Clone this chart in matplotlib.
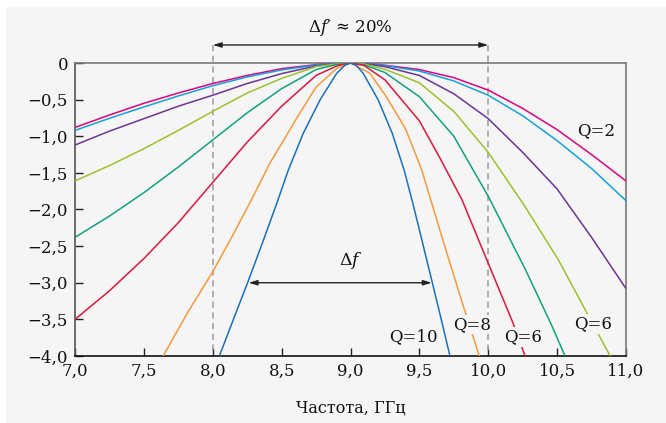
import matplotlib
matplotlib.use("Agg")
import matplotlib.pyplot as plt
from matplotlib.patches import Rectangle

plt.rcParams['font.family'] = ['DejaVu Serif']
plt.rcParams['mathtext.fontset'] = 'custom'
plt.rcParams['mathtext.it'] = 'DejaVu Serif:italic'
plt.rcParams['mathtext.rm'] = 'DejaVu Serif'

# ---- data ----
magenta_x = [7.0, 7.25, 7.5, 7.75, 8.0, 8.25, 8.5, 8.75, 8.9, 9.0, 9.1, 9.25, 9.5, 9.75, 10.0, 10.25, 10.5, 10.75, 11.0]
magenta_y = [-0.88, -0.71, -0.55, -0.41, -0.28, -0.17, -0.077, -0.022, -0.005, 0.0, -0.005, -0.03, -0.09, -0.20, -0.37, -0.62, -0.91, -1.25, -1.61]

cyan_x = [7.0, 7.25, 7.5, 7.75, 8.0, 8.25, 8.5, 8.75, 8.9, 9.0, 9.1, 9.25, 9.5, 9.75, 10.0, 10.25, 10.5, 10.75, 11.0]
cyan_y = [-0.92, -0.755, -0.60, -0.45, -0.31, -0.19, -0.095, -0.027, -0.006, 0.0, -0.006, -0.035, -0.11, -0.245, -0.44, -0.72, -1.06, -1.44, -1.88]

purple_x = [7.0, 7.25, 7.5, 7.75, 8.0, 8.25, 8.5, 8.75, 8.9, 9.0, 9.1, 9.25, 9.5, 9.75, 10.0, 10.25, 10.5, 10.75, 11.0]
purple_y = [-1.12, -0.93, -0.76, -0.59, -0.44, -0.28, -0.145, -0.04, -0.009, 0.0, -0.009, -0.05, -0.17, -0.42, -0.76, -1.22, -1.72, -2.38, -3.08]

yellow_x = [7.0, 7.25, 7.5, 7.75, 8.0, 8.25, 8.5, 8.75, 8.9, 9.0, 9.1, 9.25, 9.5, 9.75, 10.0, 10.26, 10.51, 10.71, 10.885]
yellow_y = [-1.61, -1.40, -1.17, -0.92, -0.66, -0.41, -0.21, -0.05, -0.012, 0.0, -0.014, -0.086, -0.27, -0.66, -1.22, -1.94, -2.69, -3.39, -4.0]

teal_x = [7.0, 7.25, 7.5, 7.75, 8.0, 8.25, 8.5, 8.75, 8.9, 9.0, 9.1, 9.25, 9.5, 9.75, 10.0, 10.27, 10.46, 10.557]
teal_y = [-2.38, -2.09, -1.77, -1.42, -1.05, -0.68, -0.35, -0.09, -0.02, 0.0, -0.025, -0.13, -0.46, -1.0, -1.82, -2.82, -3.58, -4.0]

red_x = [7.0, 7.25, 7.5, 7.75, 8.0, 8.25, 8.5, 8.75, 8.9, 9.0, 9.1, 9.25, 9.5, 9.65, 9.81, 10.01, 10.18, 10.267]
red_y = [-3.50, -3.11, -2.67, -2.18, -1.63, -1.08, -0.59, -0.17, -0.04, 0.0, -0.035, -0.23, -0.79, -1.30, -1.87, -2.78, -3.55, -4.0]

orange_x = [7.64, 7.82, 8.0, 8.14, 8.28, 8.42, 8.5, 8.62, 8.75, 8.9, 9.0, 9.14, 9.26, 9.4, 9.517, 9.594, 9.71, 9.831, 9.935]
orange_y = [-4.0, -3.40, -2.85, -2.37, -1.87, -1.35, -1.10, -0.72, -0.33, -0.073, 0.0, -0.14, -0.46, -0.90, -1.46, -1.94, -2.66, -3.39, -4.0]

blue_x = [8.048, 8.15, 8.253, 8.36, 8.464, 8.549, 8.657, 8.78, 8.9, 8.96, 9.0, 9.04, 9.092, 9.2, 9.303, 9.389, 9.456, 9.525, 9.594, 9.66, 9.722]
blue_y = [-4.0, -3.5, -3.0, -2.46, -1.92, -1.46, -0.96, -0.50, -0.14, -0.03, 0.0, -0.03, -0.14, -0.50, -0.96, -1.46, -1.94, -2.47, -3.0, -3.51, -4.0]

series = [
    (magenta_x, magenta_y, '#e5007d'),
    (cyan_x, cyan_y, '#12a3df'),
    (purple_x, purple_y, '#6b3591'),
    (yellow_x, yellow_y, '#9dc22b'),
    (teal_x, teal_y, '#0fa37f'),
    (red_x, red_y, '#e4143c'),
    (orange_x, orange_y, '#f7993a'),
    (blue_x, blue_y, '#1a70bf'),
]

x_ticks = [7.0, 7.5, 8.0, 8.5, 9.0, 9.5, 10.0, 10.5, 11.0]
x_tick_labels = ['7,0', '7,5', '8,0', '8,5', '9,0', '9,5', '10,0', '10,5', '11,0']
y_ticks = [0, -0.5, -1.0, -1.5, -2.0, -2.5, -3.0, -3.5, -4.0]
y_tick_labels = ['0', '\u22120,5', '\u22121,0', '\u22121,5', '\u22122,0', '\u22122,5', '\u22123,0', '\u22123,5', '\u22124,0']

q_labels = [
    ('Q=2', 10.78, -0.92),
    ('Q=10', 9.46, -3.74),
    ('Q=8', 9.88, -3.57),
    ('Q=6', 10.25, -3.74),
    ('Q=6', 10.76, -3.56),
]

# ---- figure ----
W, H = 666, 423
BG = '#f5f5f5'
fig = plt.figure(figsize=(W / 100, H / 100), dpi=100, facecolor='white')
fig.patches.append(Rectangle((6 / W, 0), 1, 1 - 7 / H, transform=fig.transFigure,
                             facecolor=BG, edgecolor='none', zorder=-10))

ax = fig.add_axes([75 / W, 1 - 356 / H, 551 / W, 293 / H])
ax.set_facecolor(BG)

for xs, ys, c in series:
    ax.plot(xs, ys, color=c, lw=1.1, solid_capstyle='butt', solid_joinstyle='round', zorder=3)

ax.set_xlim(7, 11)
ax.set_ylim(-4, 0)
ax.set_xticks(x_ticks)
ax.set_xticklabels(x_tick_labels)
ax.set_yticks(y_ticks)
ax.set_yticklabels(y_tick_labels)
ax.tick_params(direction='in', length=6, width=1.0, color='#222', labelsize=12,
               labelcolor='#111', pad=5)

ax.spines['left'].set_color('#555')
ax.spines['bottom'].set_color('#111')
ax.spines['top'].set_color('#777')
ax.spines['right'].set_color('#777')
for s in ax.spines.values():
    s.set_linewidth(1.2)

ax.set_xlabel('Частота, ГГц', fontsize=11.5, color='#111')
ax.xaxis.set_label_coords(0.5, -0.148)

# dashed guides
y_top_arrow = 0.246
for xv in (8.0, 10.0):
    ax.plot([xv, xv], [y_top_arrow, -4.0], color='#9a9a9a', lw=1.1,
            dashes=(4, 3), clip_on=False, zorder=2)

# top arrow
ax.annotate('', xy=(8.0, y_top_arrow), xytext=(10.0, y_top_arrow),
            arrowprops=dict(arrowstyle='<|-|>,head_length=0.5,head_width=0.15',
                            color='#222', lw=1.0, shrinkA=0, shrinkB=0),
            annotation_clip=False)
ax.text(9.0, 0.49, '\u0394$f$\u2032 \u2248 20%', ha='center', va='center',
        fontsize=12, color='#111', clip_on=False)

# inner arrow
ax.annotate('', xy=(8.26, -3.0), xytext=(9.59, -3.0),
            arrowprops=dict(arrowstyle='<|-|>,head_length=0.5,head_width=0.15',
                            color='#222', lw=1.0, shrinkA=0, shrinkB=0))
ax.text(9.0, -2.70, '\u0394$f$', ha='center', va='center', fontsize=12.5, color='#111')

for txt, xv, yv in q_labels:
    ax.text(xv, yv, txt, ha='center', va='center', fontsize=12, color='#111', zorder=5,
            bbox=dict(facecolor=BG, edgecolor='none', pad=1.0))

fig.savefig('out.png', dpi=100, facecolor='white')
